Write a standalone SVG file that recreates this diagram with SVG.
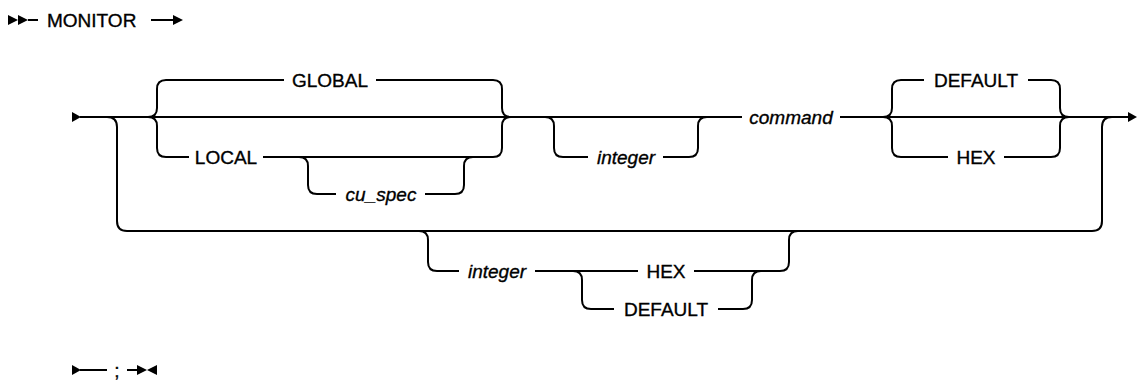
<svg xmlns="http://www.w3.org/2000/svg" width="1137" height="381" viewBox="0 0 1137 381">
<style>
.ln{fill:none;stroke:#000;stroke-width:2}
.ah{fill:#000;stroke:none}
text{font-family:"Liberation Sans",Arial,sans-serif;font-size:19px;fill:#000;stroke:#000;stroke-width:0.35}
.kw{text-anchor:middle}
.var{text-anchor:middle;font-style:italic}
</style>
<rect width="1137" height="381" fill="#fff"/>
<g id="connectors">
<polygon class="ah" points="8,15 18,20 8,25"/>
<polygon class="ah" points="18,15 28,20 18,25"/>
<path class="ln" d="M28,20 H38"/>
<path class="ln" d="M151,20 H174"/>
<polygon class="ah" points="173,15 183,20 173,25"/>
<polygon class="ah" points="72,112 81,117 72,122"/>
<path class="ln" d="M80,117 H742 M840,117 H1129"/>
<polygon class="ah" points="1128,112 1137,117 1128,122"/>
<path class="ln" d="M107,117 Q117,117 117,127 V221 Q117,231 127,231 H1092 Q1102,231 1102,221 V127 Q1102,117 1112,117"/>
<path class="ln" d="M148,117 Q157,117 157,108 V89 Q157,80 166,80 H284 M376,80 H493 Q502,80 502,89 V108 Q502,117 511,117"/>
<path class="ln" d="M148,117 Q157,117 157,126 V148 Q157,157 166,157 H189 M263,157 H493 Q502,157 502,148 V126 Q502,117 511,117"/>
<path class="ln" d="M299,157 Q308,157 308,166 V185 Q308,194 317,194 H336 M425,194 H455 Q464,194 464,185 V166 Q464,157 473,157"/>
<path class="ln" d="M545,117 Q554,117 554,126 V148 Q554,157 563,157 H588 M663,157 H689 Q698,157 698,148 V126 Q698,117 707,117"/>
<path class="ln" d="M883,117 Q892,117 892,108 V89 Q892,80 901,80 H924 M1028,80 H1051 Q1060,80 1060,89 V108 Q1060,117 1069,117"/>
<path class="ln" d="M883,117 Q892,117 892,126 V148 Q892,157 901,157 H948 M1004,157 H1051 Q1060,157 1060,148 V126 Q1060,117 1069,117"/>
<path class="ln" d="M419,231 Q428,231 428,240 V262 Q428,271 437,271 H459 M535,271 H638 M694,271 H780 Q789,271 789,262 V240 Q789,231 798,231"/>
<path class="ln" d="M573,271 Q582,271 582,280 V300 Q582,309 591,309 H614 M718,309 H743 Q752,309 752,300 V280 Q752,271 761,271"/>
<polygon class="ah" points="72,365 81,370 72,375"/>
<path class="ln" d="M80,370 H107 M127,370 H140"/>
<polygon class="ah" points="137,365 147,370 137,375"/>
<polygon class="ah" points="157,365 147,370 157,375"/>
</g>
<g id="n-monitor"><text x="47" y="27">MONITOR</text></g>
<g id="n-global"><text class="kw" x="330" y="87">GLOBAL</text></g>
<g id="n-local"><text class="kw" x="226" y="164">LOCAL</text></g>
<g id="n-cuspec"><text class="var" x="381" y="201">cu_spec</text></g>
<g id="n-integer1"><text class="var" x="626" y="164">integer</text></g>
<g id="n-command"><text class="var" x="791" y="124">command</text></g>
<g id="n-default1"><text class="kw" x="976" y="87">DEFAULT</text></g>
<g id="n-hex1"><text class="kw" x="976" y="164">HEX</text></g>
<g id="n-integer2"><text class="var" x="497" y="278">integer</text></g>
<g id="n-hex2"><text class="kw" x="666" y="278">HEX</text></g>
<g id="n-default2"><text class="kw" x="666" y="316">DEFAULT</text></g>
<g id="n-semi"><text class="kw" x="117" y="377">;</text></g>
</svg>
